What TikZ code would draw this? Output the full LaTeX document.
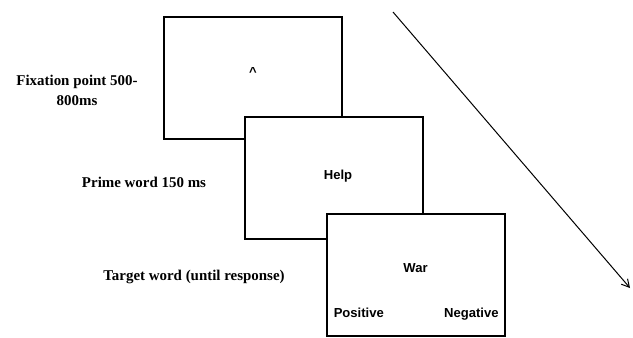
\documentclass[tikz,border=0pt]{standalone}
\usepackage{fontspec}
\setmainfont{Liberation Serif}
\newfontfamily\arialfont{Liberation Sans}
\usetikzlibrary{arrows.meta,positioning}

\begin{document}
\begin{tikzpicture}[
  x=0.75pt, y=-0.75pt,
  screen/.style={draw, line width=1.5pt, fill=white, minimum width=178*0.75pt,
    minimum height=122*0.75pt, inner sep=0pt},
  word/.style={font=\arialfont\bfseries\fontsize{9.8}{11}\selectfont, inner sep=0pt},
  phase/.style={font=\bfseries\fontsize{11.2}{15}\selectfont, align=center, inner sep=0pt},
  arrow/.style={-{Straight Barb[length=2mm, width=2.2mm]}, line width=0.75pt}
]
\useasboundingbox (0,0) rectangle (633,337);

\node[screen] (fixation) at (253,77.5) {};
\node[screen] (prime) at (334,178) {};
\node[screen] (target) at (415.5,274.5) {};

\node[word] (cross) at ([yshift=4pt]fixation.center) {\^{}};
\node[word] (primeword) at ([xshift=3pt, yshift=1.5pt]prime.center) {Help};
\node[word] (targetword) at ([yshift=5pt]target.center) {War};
\node[word, above right=18pt and 6pt of target.south west, anchor=west] (positive) {Positive};
\node[word, above left=17pt and 5pt of target.south east, anchor=east] (negative) {Negative};

\node[phase] (fixlabel) at (77,90) {Fixation point 500-\\800ms};
\node[phase] (primelabel) at (144,182) {Prime word 150 ms};
\node[phase] (targetlabel) at (194,277) {Target word (until response)};

\coordinate (tstart) at (393,12);
\coordinate (tend) at (630,288);
\draw[arrow] (tstart) -- (tend);
\end{tikzpicture}
\end{document}
